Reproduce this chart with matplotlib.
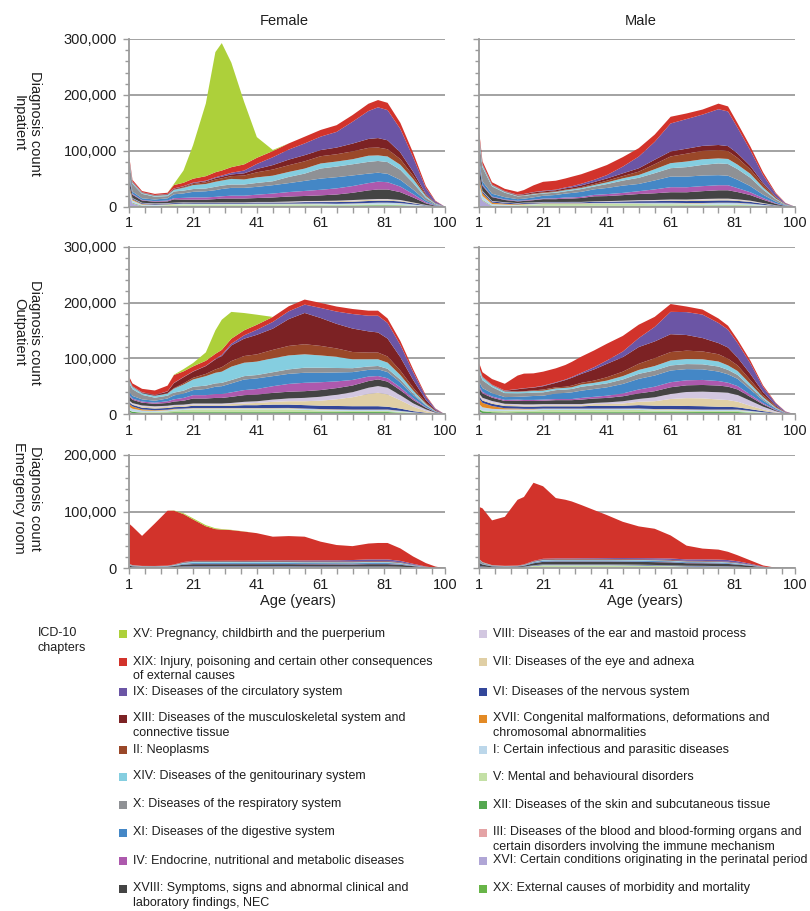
import numpy as np
import matplotlib.pyplot as plt
from matplotlib.patches import Rectangle
from matplotlib.ticker import MultipleLocator, FuncFormatter

plt.rcParams["font.family"] = ["Liberation Sans", "DejaVu Sans"]

W, H = 810, 911

ages = [1, 2, 5, 9, 13, 15, 18, 21, 25, 28, 30, 33, 37, 41, 46, 51, 56, 61, 66, 71, 76, 79, 82, 86, 90, 94, 97, 100]

# ICD-10 chapters in legend order (top of the stack first)
chapters = ["XV", "XIX", "IX", "XIII", "II", "XIV", "X", "XI", "IV", "XVIII",
            "VIII", "VII", "VI", "XVII", "I", "V", "XII", "III", "XVI", "XX"]

labels = {
    "XV": "XV: Pregnancy, childbirth and the puerperium",
    "XIX": "XIX: Injury, poisoning and certain other consequences\nof external causes",
    "IX": "IX: Diseases of the circulatory system",
    "XIII": "XIII: Diseases of the musculoskeletal system and\nconnective tissue",
    "II": "II: Neoplasms",
    "XIV": "XIV: Diseases of the genitourinary system",
    "X": "X: Diseases of the respiratory system",
    "XI": "XI: Diseases of the digestive system",
    "IV": "IV: Endocrine, nutritional and metabolic diseases",
    "XVIII": "XVIII: Symptoms, signs and abnormal clinical and\nlaboratory findings, NEC",
    "VIII": "VIII: Diseases of the ear and mastoid process",
    "VII": "VII: Diseases of the eye and adnexa",
    "VI": "VI: Diseases of the nervous system",
    "XVII": "XVII: Congenital malformations, deformations and\nchromosomal abnormalities",
    "I": "I: Certain infectious and parasitic diseases",
    "V": "V: Mental and behavioural disorders",
    "XII": "XII: Diseases of the skin and subcutaneous tissue",
    "III": "III: Diseases of the blood and blood-forming organs and\ncertain disorders involving the immune mechanism",
    "XVI": "XVI: Certain conditions originating in the perinatal period",
    "XX": "XX: External causes of morbidity and mortality",
}

colours = {
    "XV": "#add03a", "XIX": "#d2332b", "IX": "#6b55a5", "XIII": "#7c2224",
    "II": "#9a4829", "XIV": "#85cee0", "X": "#8f9195", "XI": "#4487c6",
    "IV": "#ad59ad", "XVIII": "#444444", "VIII": "#d2c7e0", "VII": "#e0cfa5",
    "VI": "#33479a", "XVII": "#e38a25", "I": "#bcd7ea", "V": "#c4e0a6",
    "XII": "#55a850", "III": "#e4a3a5", "XVI": "#b0a6d6", "XX": "#68b548",
}

# diagnosis counts in thousands, one list per chapter over the age grid
female_inpatient = {
    "XV":    [0, 0, 0, 0, 0, 2, 22, 60, 130, 215, 228, 187, 112, 37, 2, 0, 0, 0, 0, 0, 0, 0, 0, 0, 0, 0, 0, 0],
    "XIX":   [4, 3, 2, 2, 2, 6, 6, 7, 8, 9, 9, 10, 11, 11, 11, 11, 12, 12, 12, 12, 13, 13, 13, 11, 8, 4, 1, 0],
    "IX":    [1, 1, 0.5, 0.5, 0.5, 0.5, 0.5, 1, 1, 1.5, 2, 3, 5, 9, 14, 18, 21, 24, 28, 39, 50, 55, 54, 42, 26, 10, 3, 0],
    "XIII":  [0.5, 0.5, 0.5, 0.5, 1, 1.5, 1.5, 1.5, 2, 2.5, 3, 3, 4, 6, 8, 10, 11, 11, 12, 14, 16, 17, 16, 12, 7, 2, 0.5, 0],
    "II":    [0.5, 0.5, 0.5, 0.5, 0.5, 0.5, 1, 2, 3, 4, 4, 5, 7, 9, 11, 12, 13, 13, 13, 14, 14, 14, 13, 10, 6, 2, 0.5, 0],
    "XIV":   [4, 2, 1.5, 1.5, 2, 3, 5, 7, 8, 9, 9, 10, 9, 10, 10, 9, 9, 9, 9, 9, 11, 10, 10, 9, 7, 3, 1, 0],
    "X":     [24, 14, 8, 5, 4, 5, 5, 5, 5, 6, 6, 6, 6, 7, 7, 11, 13, 18, 19, 20, 21, 21, 21, 18, 12, 5, 1.5, 0],
    "XI":    [5, 4, 3, 3, 4, 7, 8, 10, 11, 12, 13, 14, 14, 14, 15, 16, 18, 20, 20, 19, 17, 16, 15, 12, 8, 3, 1, 0],
    "IV":    [2, 1.5, 1, 1, 1.5, 2, 3, 4, 4, 4, 4, 5, 5, 6, 7, 8, 9, 10, 11, 12, 13, 14, 13, 10, 6, 2, 0.5, 0],
    "XVIII": [10, 6, 4, 3, 3, 6, 5, 5, 5, 6, 7, 7, 7, 7, 8, 9, 9, 10, 11, 13, 16, 17, 17, 14, 9, 3, 1, 0],
    "VIII":  [0.5, 0.5, 0.5, 0.5, 0.5, 0.5, 0.5, 0.5, 0.5, 0.5, 0.5, 0.5, 0.5, 0.5, 0.5, 1, 1, 1, 1, 1, 1, 1, 1, 1, 0.5, 0.2, 0, 0],
    "VII":   [0.2, 0.2, 0.2, 0.2, 0.2, 0.2, 0.2, 0.2, 0.2, 0.2, 0.3, 0.3, 0.3, 0.5, 0.5, 0.7, 1, 1, 1.5, 2, 2, 2, 2, 1.5, 1, 0.3, 0, 0],
    "VI":    [2, 1.5, 1.5, 1.5, 1.5, 1.5, 1.5, 1.5, 1.5, 1.5, 1.5, 1.5, 1.5, 2, 2, 2, 2.5, 2.5, 3, 3, 3.5, 3.5, 3.5, 3, 2, 0.7, 0.2, 0],
    "XVII":  [5, 2, 1, 0.5, 0.5, 0.5, 0.5, 0.3, 0.3, 0.3, 0.3, 0.3, 0.3, 0.3, 0.3, 0.3, 0.3, 0.3, 0.3, 0.3, 0.3, 0.3, 0.3, 0.3, 0.2, 0.1, 0, 0],
    "I":     [8, 4, 2, 1.5, 1, 1, 1, 1, 1, 1, 1, 1, 1, 1, 1, 1, 1, 1.5, 1.5, 2, 2.5, 3, 3, 3, 2, 1, 0.3, 0],
    "V":     [0.3, 0.3, 0.3, 0.5, 1.5, 2, 2.5, 2.5, 2.5, 2.5, 2.5, 2.5, 2.5, 2.5, 2.5, 2.5, 2.5, 2, 1.5, 1.5, 1.5, 1.5, 1.5, 1, 0.5, 0.2, 0, 0],
    "XII":   [1, 1, 0.7, 0.5, 0.5, 0.7, 0.8, 0.8, 0.8, 0.8, 0.8, 0.8, 0.8, 0.8, 0.8, 0.8, 1, 1, 1, 1, 1.2, 1.2, 1.2, 1, 0.7, 0.3, 0.1, 0],
    "III":   [0.7, 0.5, 0.3, 0.2, 0.3, 0.3, 0.3, 0.3, 0.3, 0.3, 0.3, 0.3, 0.3, 0.4, 0.4, 0.4, 0.4, 0.5, 0.5, 0.6, 0.7, 0.8, 0.8, 0.7, 0.4, 0.2, 0, 0],
    "XVI":   [20, 5, 0, 0, 0, 0, 0, 0, 0, 0, 0, 0, 0, 0, 0, 0, 0, 0, 0, 0, 0, 0, 0, 0, 0, 0, 0, 0],
    "XX":    [0.5, 0.5, 0.5, 0.5, 0.5, 0.5, 0.5, 0.5, 0.5, 0.5, 0.5, 0.5, 0.5, 0.5, 0.5, 0.5, 0.5, 0.5, 0.5, 0.5, 0.5, 0.5, 0.5, 0.5, 0.3, 0.1, 0, 0],
}

male_inpatient = {
    "XV":    [0] * 28,
    "XIX":   [6, 5, 4, 4, 5, 7, 12, 16, 16, 16, 17, 17, 18, 18, 17, 15, 13, 12, 10, 9, 10, 9, 8, 7, 5, 2, 0.5, 0],
    "IX":    [1, 1, 0.5, 0.5, 0.5, 0.5, 0.5, 1, 1, 1.5, 2, 3, 4, 6, 12, 21, 32, 50, 53, 56, 64, 62, 46, 28, 14, 5, 1.5, 0],
    "XIII":  [0.5, 0.5, 0.5, 0.5, 1, 1.5, 2, 2, 2, 2.5, 2.5, 3, 3.5, 4, 5, 6, 8, 9, 9, 9, 9, 9, 8, 6, 3, 1, 0.3, 0],
    "II":    [0.5, 0.5, 0.5, 0.5, 0.5, 0.5, 1, 1, 1, 1, 1, 1.5, 2, 3, 4, 6, 9, 12, 14, 15, 15, 14, 12, 8, 5, 2, 0.5, 0],
    "XIV":   [8, 4, 2, 1.5, 1, 1, 1, 1, 1.5, 2, 2, 2, 2.5, 3, 4, 5, 7, 9, 10, 10, 9, 9, 8, 7, 4, 1.5, 0.5, 0],
    "X":     [35, 25, 13, 8, 5, 5, 5, 4, 4, 4, 4.5, 5, 5, 7, 9, 11, 13, 15, 17, 19, 21, 21, 19, 15, 9, 4, 1, 0],
    "XI":    [8, 6, 5, 4, 3, 3, 4, 5, 6, 7, 8, 9, 10, 11, 13, 13, 16, 19, 19, 19, 18, 17, 15, 11, 6, 3, 1, 0],
    "IV":    [3, 2, 1, 1, 1, 1, 1, 1, 1.5, 2, 2, 2, 2.5, 3.5, 4, 5, 7, 9, 9, 9, 9, 9, 7, 5, 3, 1, 0.3, 0],
    "XVIII": [15, 9, 7, 4, 3, 3, 4, 5, 5, 6, 6, 7, 9, 9, 10, 11, 12, 13, 13, 14, 15, 15, 13, 10, 6, 2.5, 0.7, 0],
    "VIII":  [0.8, 0.8, 0.7, 0.5, 0.5, 0.5, 0.5, 0.5, 0.5, 0.5, 0.5, 0.5, 0.5, 0.7, 0.8, 1, 1, 1.2, 1.2, 1.2, 1.2, 1.2, 1, 1, 0.5, 0.2, 0, 0],
    "VII":   [0.2, 0.2, 0.2, 0.2, 0.2, 0.2, 0.2, 0.2, 0.2, 0.2, 0.3, 0.3, 0.3, 0.5, 0.5, 0.8, 1, 1.2, 1.5, 2, 2, 2, 1.8, 1.2, 0.7, 0.3, 0, 0],
    "VI":    [5, 3, 2, 2, 1.5, 1.5, 1.5, 1.5, 1.5, 1.5, 1.5, 1.5, 2, 2, 2.5, 3, 3, 3.5, 3.5, 4, 4, 4, 3.5, 3, 2, 0.7, 0.2, 0],
    "XVII":  [10, 5, 2.5, 1.5, 1, 1, 0.7, 0.5, 0.5, 0.5, 0.5, 0.5, 0.5, 0.5, 0.5, 0.5, 0.5, 0.5, 0.5, 0.5, 0.5, 0.5, 0.5, 0.3, 0.2, 0.1, 0, 0],
    "I":     [12, 7, 3, 2, 1, 1, 1, 1, 1, 1, 1, 1, 1.5, 1.5, 1.5, 1.5, 2, 2, 2, 2.5, 3, 3, 3, 2.5, 1.5, 0.7, 0.2, 0],
    "V":     [0.3, 0.3, 0.3, 0.5, 1, 1.5, 2, 3, 3, 3, 3, 3, 3, 3, 3, 3, 2.5, 2.5, 2, 1.5, 1.5, 1.5, 1.2, 1, 0.5, 0.2, 0, 0],
    "XII":   [1.2, 1, 0.7, 0.6, 0.6, 0.8, 1, 1, 1, 1, 1, 1, 1, 1, 1, 1, 1, 1, 1, 1, 1, 1, 1, 0.8, 0.5, 0.2, 0.1, 0],
    "III":   [0.8, 0.5, 0.3, 0.2, 0.2, 0.3, 0.3, 0.3, 0.3, 0.3, 0.3, 0.3, 0.3, 0.3, 0.4, 0.4, 0.5, 0.5, 0.6, 0.6, 0.7, 0.7, 0.7, 0.5, 0.3, 0.1, 0, 0],
    "XVI":   [25, 10, 0, 0, 0, 0, 0, 0, 0, 0, 0, 0, 0, 0, 0, 0, 0, 0, 0, 0, 0, 0, 0, 0, 0, 0, 0, 0],
    "XX":    [0.5, 0.5, 0.5, 0.5, 0.5, 0.5, 0.5, 0.5, 0.5, 0.5, 0.5, 0.5, 0.5, 0.5, 0.5, 0.5, 0.5, 0.5, 0.5, 0.5, 0.5, 0.5, 0.5, 0.5, 0.3, 0.1, 0, 0],
}

female_outpatient = {
    "XV":    [0, 0, 0, 0, 0, 0.5, 4, 6, 15, 42, 54, 48, 31, 18, 0, 0, 0, 0, 0, 0, 0, 0, 0, 0, 0, 0, 0, 0],
    "XIX":   [5, 5, 6, 8, 10, 14, 10, 9, 9, 9, 9, 9, 9, 9, 9, 9, 9, 9, 9, 9, 9, 9, 8, 7, 5, 2, 0.7, 0],
    "IX":    [0.5, 0.5, 0.5, 0.5, 0.5, 0.5, 0.5, 0.5, 0.5, 1, 2, 3, 6, 9, 12, 14, 15, 18, 22, 26, 28, 30, 28, 22, 14, 6, 2, 0],
    "XIII":  [0.5, 0.5, 1, 1, 3, 9, 11, 11, 14, 18, 20, 28, 31, 35, 38, 48, 56, 50, 44, 42, 38, 36, 32, 24, 14, 5, 1.5, 0],
    "II":    [0.3, 0.3, 0.3, 0.3, 0.5, 1, 2, 3, 4, 6, 8, 10, 12, 13, 15, 17, 18, 17, 15, 13, 12, 12, 11, 8, 5, 2, 0.5, 0],
    "XIV":   [5, 4, 3, 3, 4, 7, 11, 13, 17, 19, 20, 24, 24, 24, 25, 25, 24, 22, 20, 16, 13, 12, 11, 8, 5, 2, 0.5, 0],
    "X":     [15, 12, 8, 5.5, 5, 5, 5, 6, 6, 6, 6, 6, 6, 6, 7, 8, 9, 9, 8, 7, 6, 6, 6, 5, 3, 1, 0.3, 0],
    "XI":    [6, 5, 4, 3.5, 5, 7, 8, 9, 11, 13, 14, 16, 19, 19, 18, 18, 18, 17, 16, 14, 12, 12, 11, 9, 6, 3, 0.8, 0],
    "IV":    [2, 2, 2, 2, 3, 4, 5, 6, 6, 7, 7, 8, 9, 10, 12, 14, 15, 14, 12, 10, 8, 6, 6, 5, 3, 1, 0.3, 0],
    "XVIII": [8, 6, 5, 4.5, 5, 6, 7, 9, 9, 10, 10, 11, 12, 12, 12, 12, 12, 12, 12, 12, 12, 12, 11, 9, 6, 3, 1, 0],
    "VIII":  [2, 2, 2, 2, 2, 2, 2, 2, 2, 2, 2, 2, 3, 3, 4, 5, 6, 7, 8, 9, 11, 12, 12, 9, 6, 3, 1, 0],
    "VII":   [1, 1, 2, 2, 2, 2, 2, 2, 2, 2, 2, 3, 3, 4, 5, 6, 7, 9, 12, 16, 22, 24, 22, 15, 8, 3, 1, 0],
    "VI":    [3, 3, 3, 3, 3, 3, 3, 4, 4, 4, 4, 4, 5, 5, 6, 6, 6, 6, 6, 6, 6, 6, 5, 4, 2, 1, 0.3, 0],
    "XVII":  [5, 4, 2, 1, 1, 1, 0.5, 0.5, 0.5, 0.5, 0.5, 0.5, 0.5, 0.5, 0.5, 0.5, 0.5, 0.5, 0.5, 0.5, 0.5, 0.5, 0.5, 0.3, 0.2, 0.1, 0, 0],
    "I":     [6, 5, 3, 2, 2, 2, 2, 2, 2, 2, 2, 2, 2, 2, 2, 2, 2, 2, 2, 2, 2, 2, 2, 1.5, 1, 0.5, 0.2, 0],
    "V":     [0.5, 0.5, 1, 1.5, 2, 3, 4, 5, 5, 5, 5, 5, 5, 5, 5, 5, 4, 3, 2.5, 2, 2, 2, 2, 1.5, 1, 0.5, 0.2, 0],
    "XII":   [3, 2.5, 2, 2, 2.5, 3, 3, 3, 3, 3, 3, 3, 3, 3, 3, 3, 3, 3, 3, 3, 3, 3, 3, 2, 1, 0.5, 0.2, 0],
    "III":   [0.5, 0.5, 0.3, 0.3, 0.3, 0.3, 0.3, 0.3, 0.3, 0.3, 0.3, 0.3, 0.3, 0.3, 0.3, 0.4, 0.4, 0.4, 0.4, 0.5, 0.5, 0.5, 0.5, 0.4, 0.2, 0.1, 0, 0],
    "XVI":   [3, 1, 0, 0, 0, 0, 0, 0, 0, 0, 0, 0, 0, 0, 0, 0, 0, 0, 0, 0, 0, 0, 0, 0, 0, 0, 0, 0],
    "XX":    [0.5, 0.5, 0.5, 0.5, 0.5, 0.5, 0.5, 0.5, 0.5, 0.5, 0.5, 0.5, 0.5, 0.5, 0.5, 0.5, 0.5, 0.5, 0.5, 0.5, 0.5, 0.5, 0.5, 0.5, 0.3, 0.1, 0, 0],
}

male_outpatient = {
    "XV":    [0] * 28,
    "XIX":   [8, 8, 10, 12, 24, 26, 25, 25, 25, 26, 27, 29, 30, 30, 28, 24, 18, 14, 10, 9, 8, 7, 6, 5, 3, 1, 0.3, 0],
    "IX":    [0.5, 0.5, 0.5, 0.5, 0.5, 0.5, 0.5, 1, 1, 1, 1.5, 2, 4, 6, 10, 16, 26, 40, 41, 42, 36, 32, 26, 19, 9, 4, 1, 0],
    "XIII":  [0.5, 0.5, 0.5, 1, 4, 5, 5, 6, 8, 12, 14, 16, 20, 24, 26, 30, 30, 32, 28, 24, 20, 20, 14, 11, 5, 2, 0.5, 0],
    "II":    [0.3, 0.3, 0.3, 0.3, 0.5, 0.5, 1, 2, 2, 2, 3, 3, 4, 6, 8, 11, 14, 15, 15, 14, 13, 12, 10, 7, 4, 1.5, 0.4, 0],
    "XIV":   [6, 5, 3, 3, 3, 3, 3, 3, 3, 3, 3, 4, 4, 5, 6, 7, 8, 9, 9, 9, 9, 8, 7, 5, 3, 1, 0.3, 0],
    "X":     [18, 14, 11, 7, 6, 6, 6, 6, 6, 6, 6, 7, 7, 7, 8, 9, 9, 9, 9, 9, 9, 8, 7, 5, 3, 1, 0.3, 0],
    "XI":    [8, 7, 6, 5, 5, 6, 7, 7, 10, 11, 12, 13, 14, 15, 17, 19, 20, 21, 20, 19, 17, 15, 13, 9, 5, 2, 0.5, 0],
    "IV":    [3, 2.5, 2, 2, 2, 2, 2, 2, 2, 2, 2, 3, 3, 4, 5, 7, 8, 9, 9, 9, 8, 7, 6, 4, 2, 1, 0.2, 0],
    "XVIII": [10, 8, 6, 5, 6, 6, 6, 6, 7, 7, 7, 8, 8, 8, 9, 10, 11, 12, 12, 12, 12, 11, 10, 7, 4, 1.5, 0.4, 0],
    "VIII":  [3, 3, 3, 2, 2, 2, 2, 2, 2, 2, 2, 2, 2, 3, 4, 5, 7, 9, 11, 12, 13, 13, 12, 9, 5, 2, 0.5, 0],
    "VII":   [2, 2, 2, 2, 2, 2, 2, 2, 2, 2, 2, 2, 3, 3, 4, 6, 8, 12, 14, 14, 13, 12, 10, 6, 3, 1, 0.3, 0],
    "VI":    [4, 4, 4, 4, 4, 4, 4, 4, 4, 4, 4, 4, 5, 5, 5, 6, 6, 6, 6, 6, 5, 5, 4, 3, 2, 0.7, 0.2, 0],
    "XVII":  [10, 8, 5, 2, 1.5, 1, 1, 0.5, 0.5, 0.5, 0.5, 0.5, 0.5, 0.5, 0.5, 0.5, 0.5, 0.5, 0.5, 0.5, 0.5, 0.5, 0.5, 0.3, 0.2, 0.1, 0, 0],
    "I":     [8, 6, 4, 2.5, 2, 2, 2, 2, 2, 2, 2, 2, 2, 2, 2, 2, 2, 2, 2, 2, 2, 2, 2, 1.5, 1, 0.5, 0.1, 0],
    "V":     [1, 1, 2, 3, 3, 3, 3, 4, 4, 4, 4, 4, 4, 4, 4, 4, 3, 3, 2.5, 2, 2, 2, 2, 1.5, 1, 0.5, 0.1, 0],
    "XII":   [4, 3.5, 3, 2.5, 3, 3, 3, 3, 3, 3, 3, 3, 3, 3, 3, 3, 3, 3, 3, 3, 3, 3, 3, 2, 1, 0.5, 0.1, 0],
    "III":   [0.5, 0.5, 0.3, 0.3, 0.3, 0.3, 0.3, 0.3, 0.3, 0.3, 0.3, 0.3, 0.3, 0.3, 0.3, 0.4, 0.4, 0.4, 0.4, 0.5, 0.5, 0.5, 0.5, 0.4, 0.2, 0.1, 0, 0],
    "XVI":   [4, 1, 0, 0, 0, 0, 0, 0, 0, 0, 0, 0, 0, 0, 0, 0, 0, 0, 0, 0, 0, 0, 0, 0, 0, 0, 0, 0],
    "XX":    [0.5, 0.5, 0.5, 0.5, 0.5, 0.5, 0.5, 0.5, 0.5, 0.5, 0.5, 0.5, 0.5, 0.5, 0.5, 0.5, 0.5, 0.5, 0.5, 0.5, 0.5, 0.5, 0.5, 0.5, 0.3, 0.1, 0, 0],
}

female_emergency = {
    "XV":    [0, 0, 0, 0, 0, 0.5, 1.5, 2, 2, 1.5, 1, 0.5, 0.3, 0, 0, 0, 0, 0, 0, 0, 0, 0, 0, 0, 0, 0, 0, 0],
    "XIX":   [71, 68, 53, 75, 97, 95, 84.5, 73, 61, 56, 55, 54, 51.5, 48.5, 42, 43, 42, 33, 27, 24.5, 28, 29, 29, 22, 13, 6, 2.5, 0],
    "IX":    [0.2, 0.2, 0.1, 0.1, 0.1, 0.2, 0.4, 0.5, 0.5, 0.5, 0.6, 0.7, 0.8, 1, 1.2, 1.4, 1.6, 1.8, 2, 2.5, 3, 3, 3, 2.5, 1.5, 0.5, 0.1, 0],
    "XIII":  [0.1, 0.1, 0.1, 0.2, 0.3, 0.5, 0.8, 1, 1, 1, 1, 1, 1, 1, 1, 1, 1, 1, 1, 1, 1, 1, 1, 0.8, 0.5, 0.2, 0, 0],
    "II":    [0.1, 0.1, 0.1, 0.1, 0.1, 0.1, 0.1, 0.2, 0.2, 0.2, 0.2, 0.2, 0.3, 0.3, 0.3, 0.4, 0.4, 0.4, 0.4, 0.4, 0.4, 0.4, 0.4, 0.3, 0.2, 0.1, 0, 0],
    "XIV":   [0.5, 0.3, 0.3, 0.3, 0.5, 0.8, 1.5, 1.8, 1.8, 1.8, 1.8, 1.8, 1.5, 1.5, 1.5, 1.3, 1.2, 1.2, 1.2, 1.2, 1.2, 1.2, 1.2, 1, 0.6, 0.2, 0.1, 0],
    "X":     [1.5, 1, 0.6, 0.4, 0.3, 0.3, 0.4, 0.5, 0.5, 0.5, 0.5, 0.5, 0.5, 0.5, 0.5, 0.5, 0.5, 0.6, 0.6, 0.7, 0.8, 0.8, 0.8, 0.7, 0.4, 0.2, 0, 0],
    "XI":    [0.5, 0.4, 0.4, 0.4, 0.5, 0.7, 1.2, 1.5, 1.5, 1.5, 1.5, 1.5, 1.5, 1.5, 1.5, 1.5, 1.5, 1.5, 1.5, 1.5, 1.5, 1.5, 1.5, 1.2, 0.7, 0.3, 0.1, 0],
    "IV":    [0.2, 0.1, 0.1, 0.1, 0.1, 0.2, 0.3, 0.4, 0.4, 0.4, 0.4, 0.4, 0.4, 0.4, 0.5, 0.5, 0.5, 0.5, 0.5, 0.5, 0.5, 0.5, 0.5, 0.4, 0.2, 0.1, 0, 0],
    "XVIII": [2, 1.5, 1, 1, 1, 1.5, 3, 3.5, 3.5, 3.5, 3.5, 3.5, 3.5, 3.5, 3.5, 3.5, 3.5, 3.5, 3.5, 3.5, 4, 4, 4, 3.5, 2, 1, 0.3, 0],
    "VIII":  [0.1, 0.1, 0.1, 0.1, 0.1, 0.1, 0.1, 0.1, 0.1, 0.1, 0.1, 0.1, 0.1, 0.1, 0.1, 0.1, 0.1, 0.1, 0.1, 0.1, 0.1, 0.1, 0.1, 0.1, 0.1, 0, 0, 0],
    "VII":   [0.1, 0.1, 0.1, 0.1, 0.1, 0.1, 0.1, 0.1, 0.1, 0.1, 0.1, 0.1, 0.1, 0.1, 0.1, 0.1, 0.1, 0.1, 0.1, 0.1, 0.1, 0.1, 0.1, 0.1, 0.1, 0, 0, 0],
    "VI":    [0.5, 0.4, 0.3, 0.3, 0.4, 0.5, 0.8, 1, 1, 1, 1, 1, 1, 1, 1, 1, 1, 1, 1, 1, 1, 1, 1, 0.8, 0.5, 0.2, 0, 0],
    "XVII":  [0.2, 0.1, 0, 0, 0, 0, 0, 0, 0, 0, 0, 0, 0, 0, 0, 0, 0, 0, 0, 0, 0, 0, 0, 0, 0, 0, 0, 0],
    "I":     [0.5, 0.4, 0.3, 0.3, 0.3, 0.3, 0.4, 0.5, 0.5, 0.5, 0.5, 0.5, 0.5, 0.5, 0.5, 0.5, 0.5, 0.5, 0.5, 0.5, 0.5, 0.5, 0.5, 0.4, 0.3, 0.1, 0, 0],
    "V":     [0.1, 0.1, 0.1, 0.1, 0.3, 0.6, 1, 1, 1, 1, 1, 1, 1, 1, 1, 1, 0.8, 0.7, 0.6, 0.5, 0.5, 0.5, 0.5, 0.4, 0.2, 0.1, 0, 0],
    "XII":   [0.3, 0.3, 0.2, 0.2, 0.2, 0.3, 0.4, 0.5, 0.5, 0.5, 0.5, 0.5, 0.5, 0.5, 0.5, 0.5, 0.5, 0.5, 0.5, 0.5, 0.5, 0.5, 0.5, 0.4, 0.2, 0.1, 0, 0],
    "III":   [0.1, 0.1, 0.1, 0.1, 0.1, 0.1, 0.1, 0.1, 0.1, 0.1, 0.1, 0.1, 0.1, 0.1, 0.1, 0.1, 0.1, 0.1, 0.1, 0.1, 0.1, 0.1, 0.1, 0.1, 0.1, 0, 0, 0],
    "XVI":   [0.3, 0, 0, 0, 0, 0, 0, 0, 0, 0, 0, 0, 0, 0, 0, 0, 0, 0, 0, 0, 0, 0, 0, 0, 0, 0, 0, 0],
    "XX":    [0.3, 0.3, 0.3, 0.3, 0.3, 0.4, 0.5, 0.5, 0.5, 0.5, 0.5, 0.5, 0.5, 0.5, 0.5, 0.5, 0.5, 0.5, 0.5, 0.5, 0.5, 0.5, 0.5, 0.4, 0.3, 0.1, 0, 0],
}

male_emergency = {
    "XV":    [0] * 28,
    "XIX":   [92, 95, 79, 86.5, 116, 119, 138, 128, 106.5, 103.5, 100.5, 94, 85, 76, 64, 56, 52, 40.7, 24.3, 19, 17.6, 14.5, 10.6, 6, 2, 0.4, 0, 0],
    "IX":    [0.2, 0.1, 0.1, 0.1, 0.1, 0.2, 0.5, 0.8, 1, 1, 1, 1.2, 1.3, 1.5, 1.8, 2, 2.3, 2.5, 2.5, 2.8, 3, 3, 2.5, 1.5, 0.5, 0.1, 0, 0],
    "XIII":  [0.1, 0.1, 0.1, 0.2, 0.3, 0.5, 0.8, 1, 1, 1, 1, 1, 1, 1, 1, 1, 1, 1, 0.9, 0.9, 0.8, 0.8, 0.7, 0.4, 0.2, 0, 0, 0],
    "II":    [0.1, 0.1, 0.1, 0.1, 0.1, 0.1, 0.1, 0.2, 0.2, 0.2, 0.2, 0.2, 0.2, 0.2, 0.2, 0.2, 0.2, 0.2, 0.2, 0.2, 0.2, 0.2, 0.2, 0.1, 0, 0, 0, 0],
    "XIV":   [1, 0.6, 0.3, 0.2, 0.2, 0.3, 0.7, 1, 1, 1, 1, 1, 1, 1, 1, 1, 1, 0.9, 0.9, 0.9, 0.9, 0.9, 0.8, 0.5, 0.2, 0, 0, 0],
    "X":     [4, 2.5, 1, 0.6, 0.5, 0.5, 0.5, 0.5, 0.5, 0.5, 0.5, 0.5, 0.5, 0.5, 0.5, 0.5, 0.5, 0.5, 0.5, 0.5, 0.5, 0.5, 0.4, 0.3, 0.1, 0, 0, 0],
    "XI":    [1, 0.8, 0.5, 0.4, 0.5, 0.7, 1.2, 1.5, 1.5, 1.5, 1.5, 1.5, 1.5, 1.5, 1.5, 1.5, 1.5, 1.4, 1.3, 1.3, 1.2, 1.2, 1, 0.6, 0.2, 0.1, 0, 0],
    "IV":    [0.2, 0.1, 0.1, 0.1, 0.1, 0.2, 0.3, 0.4, 0.4, 0.4, 0.4, 0.4, 0.4, 0.4, 0.4, 0.4, 0.4, 0.4, 0.4, 0.4, 0.4, 0.3, 0.3, 0.2, 0.1, 0, 0, 0],
    "XVIII": [5, 3.5, 1.5, 1, 1, 1.5, 3.5, 4.5, 5, 5, 5, 5, 5, 5, 5, 5, 5, 5, 4.5, 4.5, 4.5, 4, 3.5, 2.5, 1, 0.3, 0, 0],
    "VIII":  [0.1, 0.1, 0.1, 0.1, 0.1, 0.1, 0.1, 0.1, 0.1, 0.1, 0.1, 0.1, 0.1, 0.1, 0.1, 0.1, 0.1, 0.1, 0.1, 0.1, 0.1, 0.1, 0.1, 0.1, 0, 0, 0, 0],
    "VII":   [0.1, 0.1, 0.1, 0.1, 0.1, 0.1, 0.1, 0.2, 0.2, 0.2, 0.2, 0.2, 0.2, 0.2, 0.2, 0.2, 0.2, 0.2, 0.2, 0.2, 0.2, 0.2, 0.2, 0.1, 0, 0, 0, 0],
    "VI":    [1.5, 1, 0.5, 0.4, 0.5, 0.6, 0.8, 1, 1, 1, 1, 1, 1, 1, 1, 1, 1, 1, 0.9, 0.9, 0.8, 0.8, 0.7, 0.4, 0.2, 0, 0, 0],
    "XVII":  [0.3, 0.1, 0, 0, 0, 0, 0, 0, 0, 0, 0, 0, 0, 0, 0, 0, 0, 0, 0, 0, 0, 0, 0, 0, 0, 0, 0, 0],
    "I":     [1.5, 1, 0.5, 0.3, 0.3, 0.3, 0.4, 0.5, 0.5, 0.5, 0.5, 0.5, 0.5, 0.5, 0.5, 0.5, 0.5, 0.5, 0.4, 0.4, 0.4, 0.4, 0.3, 0.2, 0.1, 0, 0, 0],
    "V":     [0.1, 0.1, 0.1, 0.2, 0.5, 1, 3, 4, 4, 4, 4, 4, 4, 4, 3.8, 3.5, 3, 2.5, 2, 1.8, 1.5, 1.3, 1, 0.6, 0.2, 0.1, 0, 0],
    "XII":   [0.3, 0.3, 0.2, 0.2, 0.2, 0.3, 0.4, 0.5, 0.5, 0.5, 0.5, 0.5, 0.5, 0.5, 0.5, 0.5, 0.5, 0.5, 0.4, 0.4, 0.4, 0.4, 0.3, 0.2, 0.1, 0, 0, 0],
    "III":   [0.1, 0.1, 0.1, 0.1, 0.1, 0.1, 0.1, 0.1, 0.1, 0.1, 0.1, 0.1, 0.1, 0.1, 0.1, 0.1, 0.1, 0.1, 0.1, 0.1, 0.1, 0.1, 0.1, 0.1, 0, 0, 0, 0],
    "XVI":   [0.3, 0, 0, 0, 0, 0, 0, 0, 0, 0, 0, 0, 0, 0, 0, 0, 0, 0, 0, 0, 0, 0, 0, 0, 0, 0, 0, 0],
    "XX":    [0.3, 0.3, 0.3, 0.3, 0.3, 0.4, 0.5, 0.5, 0.5, 0.5, 0.5, 0.5, 0.5, 0.5, 0.5, 0.5, 0.5, 0.5, 0.4, 0.4, 0.4, 0.4, 0.3, 0.2, 0.1, 0, 0, 0],
}

settings = ["Inpatient", "Outpatient", "Emergency room"]
female_panels = [female_inpatient, female_outpatient, female_emergency]
male_panels = [male_inpatient, male_outpatient, male_emergency]
y_max = [300000, 300000, 200000]
age_ticks = [1, 21, 41, 61, 81, 100]

GRID = "#9b9b9b"
TEXT = "#1e1e1e"


def px_axes(fig, x0, x1, y_top, y_bot):
    return fig.add_axes([x0 / W, 1 - y_bot / H, (x1 - x0) / W, (y_bot - y_top) / H])


def draw_panel(ax, data, ymax, show_ylabels, extra_line=None):
    order = chapters[::-1]  # bottom of the stack first
    ax.stackplot(ages, *[np.array(data[c]) * 1000 for c in order],
                 colors=[colours[c] for c in order], linewidth=0)
    ax.set_xlim(1, 100)
    ax.set_ylim(0, ymax)
    ax.set_xticks(age_ticks)
    ax.set_xticks([a for a in range(6, 100, 5)], minor=True)
    ax.yaxis.set_major_locator(MultipleLocator(100000))
    ax.yaxis.set_minor_locator(MultipleLocator(20000))
    ax.yaxis.set_major_formatter(FuncFormatter(lambda v, p: f"{int(v):,}"))
    ax.grid(axis="y", which="major", color=GRID, linewidth=1.3)
    if extra_line is not None:
        ax.axhline(extra_line, color=GRID, linewidth=1.3, zorder=0)
    ax.set_axisbelow(True)
    for s in ["top", "right"]:
        ax.spines[s].set_visible(False)
    for s in ["left", "bottom"]:
        ax.spines[s].set_color(GRID)
        ax.spines[s].set_linewidth(1.3)
    ax.tick_params(axis="both", which="both", colors=GRID, labelcolor=TEXT,
                   labelsize=10.5, direction="out", width=1)
    ax.tick_params(axis="y", which="major", length=4, pad=5)
    ax.tick_params(axis="y", which="minor", length=3)
    ax.tick_params(axis="x", which="both", length=4, pad=3)
    if not show_ylabels:
        ax.tick_params(axis="y", labelleft=False)


fig = plt.figure(figsize=(W / 100, H / 100), dpi=100)

rows_px = [(39, 206.7), (246.7, 414.3), (455, 568.3)]
label_y = [123, 332, 498]
for i in range(3):
    top, bot = rows_px[i]
    extra = 36000 if settings[i] == "Outpatient" else None
    ax_f = px_axes(fig, 129.3, 445, top, bot)
    draw_panel(ax_f, female_panels[i], y_max[i], True, extra)
    ax_m = px_axes(fig, 479.3, 795, top, bot)
    draw_panel(ax_m, male_panels[i], y_max[i], False, extra)
    fig.text(27 / W, 1 - label_y[i] / H, "Diagnosis count\n" + settings[i],
             rotation=270, ha="center", va="center", multialignment="center",
             fontsize=10.5, color=TEXT)

fig.text(284 / W, 1 - 21 / H, "Female", ha="center", va="center", fontsize=10.5, color=TEXT)
fig.text(641 / W, 1 - 21 / H, "Male", ha="center", va="center", fontsize=10.5, color=TEXT)
fig.text(298 / W, 1 - 601 / H, "Age (years)", ha="center", va="center", fontsize=10.5, color=TEXT)
fig.text(645 / W, 1 - 601 / H, "Age (years)", ha="center", va="center", fontsize=10.5, color=TEXT)

# legend: two columns of ten chapters
fig.text(38 / W, 1 - 627 / H, "ICD-10\nchapters", ha="left", va="top", fontsize=9, color=TEXT,
         linespacing=1.3)
row_y = [634, 662, 692, 719, 750, 777, 805, 833, 861, 889]
for k, code in enumerate(chapters):
    col, r = divmod(k, 10)
    mx = 119 if col == 0 else 479
    tx = 133 if col == 0 else 492.5
    y = row_y[r]
    fig.patches.append(Rectangle((mx / W, 1 - (y + 4) / H), 8 / W, 8 / H,
                                 transform=fig.transFigure, facecolor=colours[code],
                                 edgecolor="none"))
    fig.text(tx / W, 1 - (y - 6.5) / H, labels[code], ha="left", va="top",
             fontsize=9, color=TEXT, linespacing=1.3)

fig.savefig("out.png", dpi=100)
